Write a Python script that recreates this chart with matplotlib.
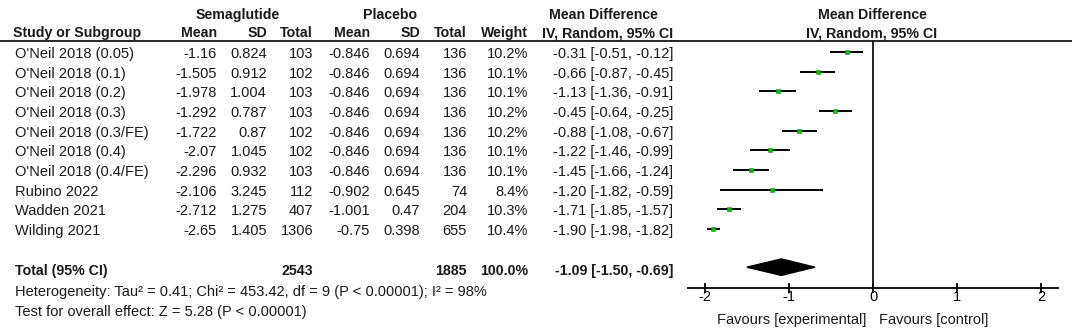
import matplotlib
matplotlib.use("Agg")
import matplotlib.pyplot as plt
from matplotlib.patches import Polygon

# ---------------- data ----------------
studies = ["O'Neil 2018 (0.05)", "O'Neil 2018 (0.1)", "O'Neil 2018 (0.2)", "O'Neil 2018 (0.3)",
           "O'Neil 2018 (0.3/FE)", "O'Neil 2018 (0.4)", "O'Neil 2018 (0.4/FE)", "Rubino 2022",
           "Wadden 2021", "Wilding 2021"]
sema_mean = ["-1.16", "-1.505", "-1.978", "-1.292", "-1.722", "-2.07", "-2.296", "-2.106", "-2.712", "-2.65"]
sema_sd = ["0.824", "0.912", "1.004", "0.787", "0.87", "1.045", "0.932", "3.245", "1.275", "1.405"]
sema_n = [103, 102, 103, 103, 102, 102, 103, 112, 407, 1306]
plac_mean = ["-0.846", "-0.846", "-0.846", "-0.846", "-0.846", "-0.846", "-0.846", "-0.902", "-1.001", "-0.75"]
plac_sd = ["0.694", "0.694", "0.694", "0.694", "0.694", "0.694", "0.694", "0.645", "0.47", "0.398"]
plac_n = [136, 136, 136, 136, 136, 136, 136, 74, 204, 655]
weights = [10.2, 10.1, 10.1, 10.2, 10.2, 10.1, 10.1, 8.4, 10.3, 10.4]
md = [-0.31, -0.66, -1.13, -0.45, -0.88, -1.22, -1.45, -1.20, -1.71, -1.90]
lo = [-0.51, -0.87, -1.36, -0.64, -1.08, -1.46, -1.66, -1.82, -1.85, -1.98]
hi = [-0.12, -0.45, -0.91, -0.25, -0.67, -0.99, -1.24, -0.59, -1.57, -1.82]
total_sema, total_plac = 2543, 1885
pooled = (-1.09, -1.50, -0.69)
xticks = [-2, -1, 0, 1, 2]
heterogeneity = "Heterogeneity: Tau\u00b2 = 0.41; Chi\u00b2 = 453.42, df = 9 (P < 0.00001); I\u00b2 = 98%"
overall = "Test for overall effect: Z = 5.28 (P < 0.00001)"

# ---------------- layout ----------------
W, H = 1072, 330
plt.rcParams['font.family'] = ['Liberation Sans', 'DejaVu Sans']
FS = 10.5
FB = 10.2
TC = '#1a1a1a'
fig = plt.figure(figsize=(W / 100, H / 100), dpi=100)

ax0 = fig.add_axes([0, 0, 1, 1])
ax0.set_xlim(0, W)
ax0.set_ylim(H, 0)
ax0.axis('off')

def row_px(i):
    return 52 + 19.65 * i

# headers
hy1, hy2 = 15, 33
ax0.text(238, hy1, "Semaglutide", ha='center', va='center', fontsize=FB, fontweight='bold', color=TC)
ax0.text(390, hy1, "Placebo", ha='center', va='center', fontsize=FB, fontweight='bold', color=TC)
ax0.text(603, hy1, "Mean Difference", ha='center', va='center', fontsize=FB, fontweight='bold', color=TC)
ax0.text(872, hy1, "Mean Difference", ha='center', va='center', fontsize=FB, fontweight='bold', color=TC)
ax0.text(13, hy2, "Study or Subgroup", ha='left', va='center', fontsize=FB, fontweight='bold', color=TC)
cols_r = [217, 267, 313, 370, 420, 467, 528]
for x, t in zip(cols_r, ["Mean", "SD", "Total", "Mean", "SD", "Total", "Weight"]):
    ax0.text(x, hy2, t, ha='right', va='center', fontsize=FB, fontweight='bold', color=TC)
ax0.text(673, hy2, "IV, Random, 95% CI", ha='right', va='center', fontsize=FB, fontweight='bold', color=TC)
ax0.text(872, hy2, "IV, Random, 95% CI", ha='center', va='center', fontsize=FB, fontweight='bold', color=TC)
ax0.plot([0, W], [41, 41], color='black', lw=1.2, solid_capstyle='butt')

for i, s in enumerate(studies):
    y = row_px(i) + 2
    ax0.text(15, y, s, ha='left', va='center', fontsize=FS, color=TC)
    vals = [sema_mean[i], sema_sd[i], str(sema_n[i]), plac_mean[i], plac_sd[i], str(plac_n[i]),
            f"{weights[i]:.1f}%"]
    for x, v in zip(cols_r, vals):
        ax0.text(x, y, v, ha='right', va='center', fontsize=FS, color=TC)
    ax0.text(673, y, f"{md[i]:.2f} [{lo[i]:.2f}, {hi[i]:.2f}]", ha='right', va='center', fontsize=FS, color=TC)

ty = 271
ax0.text(15, ty, "Total (95% CI)", ha='left', va='center', fontsize=FB, fontweight='bold', color=TC)
ax0.text(313, ty, str(total_sema), ha='right', va='center', fontsize=FB, fontweight='bold', color=TC)
ax0.text(467, ty, str(total_plac), ha='right', va='center', fontsize=FB, fontweight='bold', color=TC)
ax0.text(528, ty, "100.0%", ha='right', va='center', fontsize=FB, fontweight='bold', color=TC)
ax0.text(673, ty, f"{pooled[0]:.2f} [{pooled[1]:.2f}, {pooled[2]:.2f}]", ha='right', va='center',
         fontsize=FB, fontweight='bold', color=TC)
ax0.text(15, 292, heterogeneity, ha='left', va='center', fontsize=FS, color=TC)
ax0.text(15, 312, overall, ha='left', va='center', fontsize=FS, color=TC)

# ---------------- forest axes ----------------
x0, x1 = 688, 1058
ytop, ybot = 41, 288
axf = fig.add_axes([x0 / W, (H - ybot) / H, (x1 - x0) / W, (ybot - ytop) / H])
axf.set_xlim(-2.2, 2.2)
axf.set_ylim((ybot - 52) / 19.65, (ytop - 52) / 19.65)
axf.patch.set_alpha(0)
for sp in ['top', 'left', 'right']:
    axf.spines[sp].set_visible(False)
axf.spines['bottom'].set_linewidth(1.3)
axf.set_yticks([])
axf.set_xticks(xticks)
axf.set_xticklabels([str(t) for t in xticks])
axf.tick_params(axis='x', direction='inout', length=7, width=1.3, pad=-2, labelsize=FS, colors='black')
axf.axvline(0, color='black', lw=1.2)

for i in range(len(studies)):
    axf.plot([lo[i], hi[i]], [i, i], color='black', lw=1.4, solid_capstyle='butt')
    axf.plot(md[i], i, marker='s', ms=3.2 * weights[i] / 10.4, color='#00c000',
             mec='#00a000', mew=0.4)

dy = 0.42
axf.add_patch(Polygon([[pooled[1], 10.95], [pooled[0], 10.95 - dy], [pooled[2], 10.95],
                       [pooled[0], 10.95 + dy]], closed=True, color='black'))

fy = (320 - 52) / 19.65
axf.text(-0.08, fy, "Favours [experimental]", ha='right', va='center', fontsize=FS, color=TC, clip_on=False)
axf.text(0.07, fy, "Favours [control]", ha='left', va='center', fontsize=FS, color=TC, clip_on=False)

fig.savefig("out.png", dpi=100)
